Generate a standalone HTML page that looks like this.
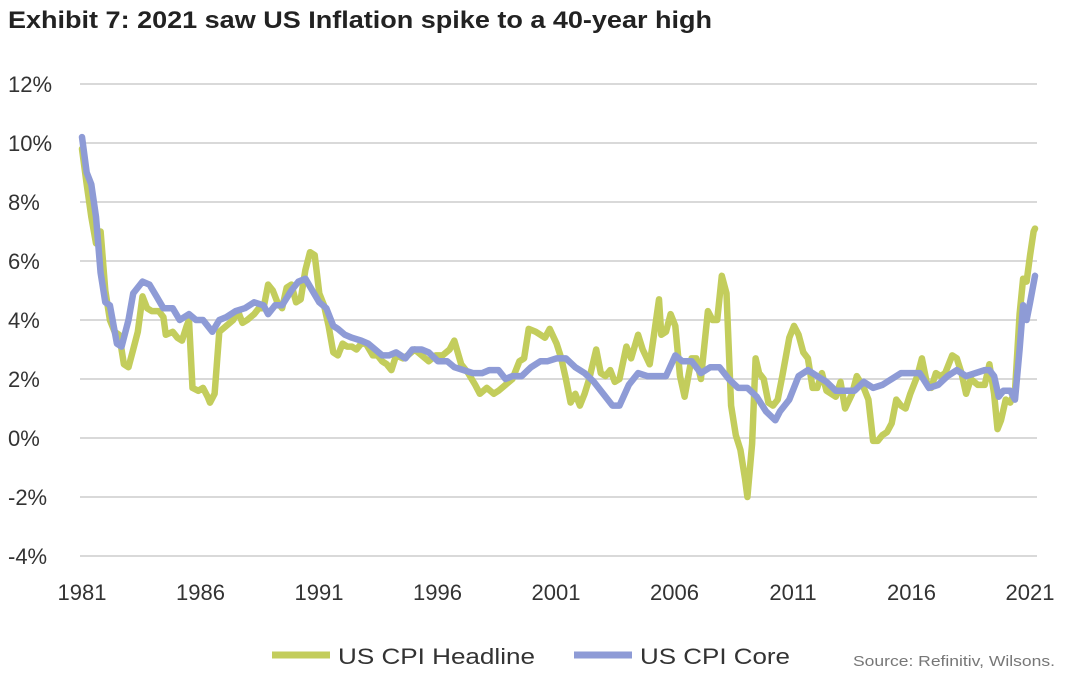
<!DOCTYPE html>
<html><head><meta charset="utf-8"><style>
body{margin:0;background:#fff;font-family:"Liberation Sans",sans-serif;}
svg text{font-family:"Liberation Sans",sans-serif;}
</style></head><body>
<svg id="c" width="1072" height="680">
<text x="8" y="28" font-size="24" font-weight="bold" fill="#222" textLength="704" lengthAdjust="spacingAndGlyphs">Exhibit 7: 2021 saw US Inflation spike to a 40-year high</text>
<g id="grid"></g><g id="ylab"></g><g id="xlab"></g><g id="series"></g>
<g>
<line x1="272" y1="655" x2="330" y2="655" stroke="#c3cd5c" stroke-width="7"/>
<text x="338" y="664" font-size="22" fill="#333" textLength="197" lengthAdjust="spacingAndGlyphs">US CPI Headline</text>
<line x1="574" y1="655" x2="632" y2="655" stroke="#8e9bd6" stroke-width="7"/>
<text x="640" y="664" font-size="22" fill="#333" textLength="150" lengthAdjust="spacingAndGlyphs">US CPI Core</text>
</g>
<text x="853" y="666" font-size="15" fill="#777" textLength="202" lengthAdjust="spacingAndGlyphs">Source: Refinitiv, Wilsons.</text>
</svg>
<script>
const yTicks=[12,10,8,6,4,2,0,-2,-4];
const xTickLabels=["1981","1986","1991","1996","2001","2006","2011","2016","2021"];
const headT=[1981.0,1981.2,1981.4,1981.6,1981.8,1982.0,1982.2,1982.4,1982.6,1982.8,1983.0,1983.2,1983.4,1983.6,1983.8,1984.0,1984.3,1984.5,1984.6,1984.9,1985.1,1985.3,1985.5,1985.6,1985.75,1986.0,1986.2,1986.4,1986.5,1986.7,1986.9,1987.2,1987.5,1987.7,1987.9,1988.1,1988.4,1988.6,1988.8,1989.0,1989.2,1989.4,1989.6,1989.8,1990.0,1990.2,1990.4,1990.6,1990.8,1991.0,1991.2,1991.4,1991.6,1991.8,1992.0,1992.2,1992.4,1992.6,1992.8,1993.0,1993.2,1993.5,1993.7,1993.9,1994.1,1994.3,1994.5,1994.8,1995.0,1995.3,1995.6,1995.9,1996.2,1996.5,1996.8,1997.0,1997.3,1997.6,1997.9,1998.1,1998.4,1998.7,1998.9,1999.2,1999.5,1999.8,2000.0,2000.2,2000.5,2000.7,2000.9,2001.1,2001.4,2001.6,2001.8,2002.0,2002.2,2002.4,2002.6,2002.8,2003.1,2003.3,2003.5,2003.7,2003.9,2004.1,2004.4,2004.6,2004.9,2005.1,2005.4,2005.6,2005.8,2005.9,2006.1,2006.3,2006.5,2006.7,2006.9,2007.2,2007.4,2007.6,2007.9,2008.1,2008.3,2008.5,2008.7,2008.9,2009.1,2009.3,2009.5,2009.6,2009.8,2009.95,2010.1,2010.3,2010.5,2010.7,2010.9,2011.1,2011.4,2011.6,2011.8,2012.0,2012.2,2012.4,2012.6,2012.8,2013.0,2013.2,2013.4,2013.6,2013.8,2014.1,2014.3,2014.6,2014.8,2015.0,2015.2,2015.4,2015.6,2015.8,2016.0,2016.2,2016.4,2016.6,2016.9,2017.1,2017.3,2017.5,2017.7,2017.9,2018.1,2018.4,2018.6,2018.8,2019.0,2019.2,2019.5,2019.8,2020.0,2020.2,2020.35,2020.5,2020.7,2020.9,2021.1,2021.3,2021.45,2021.6,2021.75,2021.9,2021.96];
const headV=[9.8,8.6,7.5,6.6,7.0,5.0,4.0,3.6,3.5,2.5,2.4,3.0,3.6,4.8,4.4,4.3,4.3,4.1,3.5,3.6,3.4,3.3,3.8,4.0,1.7,1.6,1.7,1.4,1.2,1.5,3.6,3.8,4.0,4.3,3.9,4.0,4.2,4.4,4.4,5.2,5.0,4.6,4.4,5.1,5.2,4.6,4.7,5.7,6.3,6.2,4.9,4.5,3.8,2.9,2.8,3.2,3.1,3.1,3.0,3.2,3.2,2.8,2.8,2.6,2.5,2.3,2.8,2.7,2.8,3.0,2.8,2.6,2.8,2.8,3.0,3.3,2.5,2.2,1.8,1.5,1.7,1.5,1.6,1.8,2.0,2.6,2.7,3.7,3.6,3.5,3.4,3.7,3.2,2.7,2.0,1.2,1.5,1.1,1.5,2.0,3.0,2.2,2.1,2.3,1.9,2.0,3.1,2.7,3.5,3.0,2.5,3.6,4.7,3.5,3.6,4.2,3.8,2.1,1.4,2.7,2.7,2.0,4.3,4.0,4.0,5.5,4.9,1.1,0.1,-0.4,-1.4,-2.0,-0.2,2.7,2.2,2.0,1.2,1.1,1.3,2.1,3.4,3.8,3.5,2.9,2.7,1.7,1.7,2.2,1.6,1.5,1.4,1.9,1.0,1.5,2.1,1.7,1.3,-0.1,-0.1,0.1,0.2,0.5,1.3,1.1,1.0,1.5,2.1,2.7,1.9,1.7,2.2,2.1,2.2,2.8,2.7,2.2,1.5,2.0,1.8,1.8,2.5,1.5,0.3,0.6,1.3,1.2,1.6,4.2,5.4,5.3,6.2,7.0,7.1];
const coreT=[1981.0,1981.2,1981.4,1981.6,1981.8,1982.0,1982.2,1982.5,1982.7,1983.0,1983.2,1983.6,1983.9,1984.2,1984.5,1984.9,1985.2,1985.6,1985.9,1986.2,1986.6,1986.9,1987.2,1987.6,1988.0,1988.4,1988.8,1989.0,1989.3,1989.6,1990.0,1990.3,1990.6,1990.9,1991.2,1991.5,1991.8,1992.0,1992.3,1992.6,1993.0,1993.3,1993.6,1993.9,1994.2,1994.5,1994.9,1995.2,1995.6,1995.9,1996.3,1996.7,1997.0,1997.4,1997.8,1998.2,1998.5,1998.9,1999.2,1999.5,1999.9,2000.3,2000.7,2001.0,2001.4,2001.8,2002.2,2002.6,2003.0,2003.4,2003.8,2004.1,2004.5,2004.9,2005.3,2005.7,2006.1,2006.5,2006.8,2007.2,2007.6,2008.0,2008.4,2008.8,2009.2,2009.6,2010.0,2010.4,2010.8,2011.0,2011.4,2011.8,2012.2,2012.6,2013.0,2013.4,2013.8,2014.2,2014.6,2015.0,2015.4,2015.8,2016.2,2016.6,2017.0,2017.4,2017.8,2018.2,2018.6,2019.0,2019.4,2019.8,2020.0,2020.2,2020.4,2020.6,2020.9,2021.1,2021.3,2021.45,2021.6,2021.75,2021.96];
const coreV=[10.2,9.0,8.6,7.5,5.6,4.6,4.5,3.2,3.1,4.0,4.9,5.3,5.2,4.8,4.4,4.4,4.0,4.2,4.0,4.0,3.6,4.0,4.1,4.3,4.4,4.6,4.5,4.2,4.5,4.5,5.0,5.3,5.4,5.0,4.6,4.4,3.8,3.7,3.5,3.4,3.3,3.2,3.0,2.8,2.8,2.9,2.7,3.0,3.0,2.9,2.6,2.6,2.4,2.3,2.2,2.2,2.3,2.3,2.0,2.1,2.1,2.4,2.6,2.6,2.7,2.7,2.4,2.2,1.9,1.5,1.1,1.1,1.8,2.2,2.1,2.1,2.1,2.8,2.6,2.6,2.2,2.4,2.4,2.0,1.7,1.7,1.4,0.9,0.6,0.9,1.3,2.1,2.3,2.1,1.9,1.6,1.6,1.6,1.9,1.7,1.8,2.0,2.2,2.2,2.2,1.7,1.8,2.1,2.3,2.1,2.2,2.3,2.3,2.1,1.4,1.6,1.6,1.3,3.0,4.5,4.0,4.6,5.5];
const X0=82,X1=1035,T0=1981.0,T1=2021.96,Y0=438,PX=29.5;
const xs=t=>X0+(t-T0)/(T1-T0)*(X1-X0);
const ys=v=>Y0-v*PX;
const NS="http://www.w3.org/2000/svg";
function mk(tag,at,parent){const e=document.createElementNS(NS,tag);for(const k in at)e.setAttribute(k,at[k]);document.getElementById(parent).appendChild(e);return e;}
yTicks.forEach(v=>{
  const l=mk("line",{x1:80,x2:1037,y1:ys(v),y2:ys(v),stroke:"#d9d9d9","stroke-width":2},"grid");
  
  
  const t=mk("text",{x:8,y:ys(v)+8,"font-size":22,fill:"#333"},"ylab");
  t.textContent=v+"%";
  
  
});
xTickLabels.forEach((s,i)=>{
  const t=mk("text",{x:82+i*118.5,y:600,"font-size":22,fill:"#333","text-anchor":"middle"},"xlab");
  t.textContent=s;
  
  
});
function line(T,V,col,name){
  const d=T.map((t,i)=>(i?"L":"M")+xs(t).toFixed(1)+","+ys(V[i]).toFixed(1)).join("");
  const p=mk("path",{d:d,fill:"none",stroke:col,"stroke-width":6.5,"stroke-linejoin":"round","stroke-linecap":"round"},"series");
  
  
}
line(headT,headV,"#c3cd5c","headline-cpi-line");
line(coreT,coreV,"#8e9bd6","core-cpi-line");
</script>
</body></html>
